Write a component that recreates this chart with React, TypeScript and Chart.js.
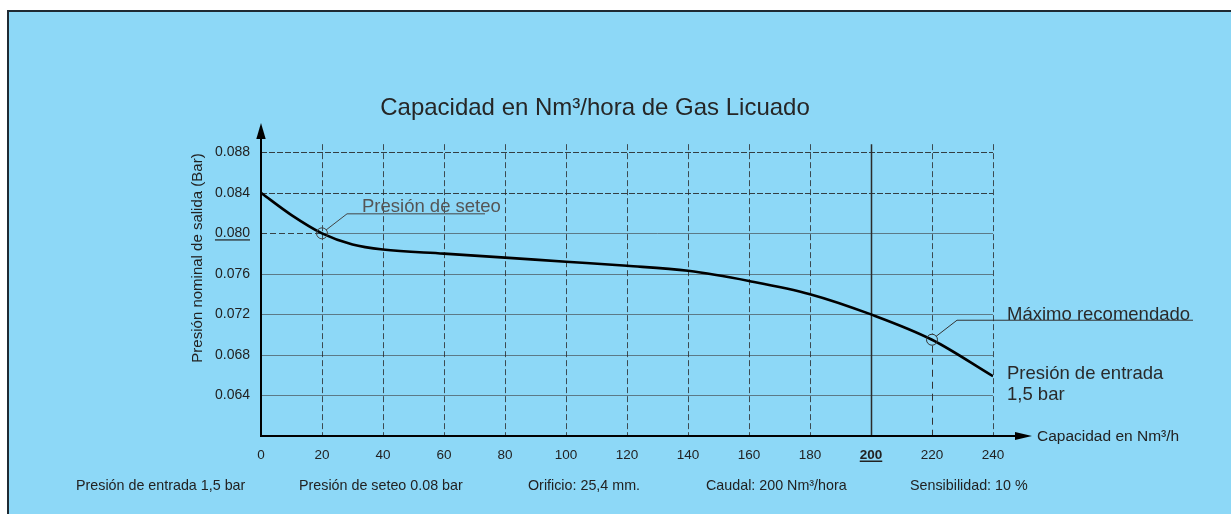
import { useEffect, useRef } from "react";
import { Chart, registerables } from "chart.js";

Chart.register(...registerables);

// ---- data ----
const capacity = [0, 10, 20, 30, 40, 60, 80, 100, 120, 140, 160, 180, 200, 220, 240];
const pressure = [0.084, 0.0818, 0.08, 0.0789, 0.0784, 0.078, 0.0776, 0.0772, 0.0768, 0.0763, 0.0753, 0.074, 0.072, 0.0695, 0.0659];

const xTickValues = [0, 20, 40, 60, 80, 100, 120, 140, 160, 180, 200, 220, 240];
const xTickLabels = ["0", "20", "40", "60", "80", "100", "120", "140", "160", "180", "200", "220", "240"];
const yTickValues = [0.088, 0.084, 0.08, 0.076, 0.072, 0.068, 0.064];
const yTickLabels = ["0.088", "0.084", "0.080", "0.076", "0.072", "0.068", "0.064"];

const titleText = "Capacidad en Nm³/hora de Gas Licuado";
const yAxisTitle = "Presión nominal de salida (Bar)";
const xAxisTitle = "Capacidad en Nm³/h";
const bottomNotes = [
  "Presión de entrada 1,5 bar",
  "Presión de seteo 0.08 bar",
  "Orificio: 25,4 mm.",
  "Caudal: 200 Nm³/hora",
  "Sensibilidad: 10 %",
];
const setPointX = 20;
const setPointY = 0.08;
const setPointLabel = "Presión de seteo";
const maxPointX = 220;
const maxPointY = 0.0695;
const maxPointLabel = "Máximo recomendado";
const inletLabel = ["Presión de entrada", "1,5 bar"];
const highlightX = 200;

const FONT = '"Liberation Sans", Arial, Helvetica, sans-serif';
const BG = "rgb(141,216,247)";
const W = 1231;
const H = 514;

const overlay = {
  id: "overlay",
  beforeDraw(chart: any) {
    const ctx = chart.ctx as CanvasRenderingContext2D;
    ctx.save();
    ctx.fillStyle = "#ffffff";
    ctx.fillRect(0, 0, W, H);
    ctx.fillStyle = BG;
    ctx.fillRect(8, 11, W - 8, H - 11);
    ctx.strokeStyle = "#1f2a33";
    ctx.lineWidth = 2;
    ctx.beginPath();
    ctx.moveTo(8, H);
    ctx.lineTo(8, 11);
    ctx.lineTo(W, 11);
    ctx.stroke();
    ctx.restore();
  },
  beforeDatasetsDraw(chart: any) {
    const ctx = chart.ctx as CanvasRenderingContext2D;
    const xs = chart.scales.x;
    const ys = chart.scales.y;
    const x0 = xs.getPixelForValue(0);
    const xEnd = xs.getPixelForValue(240);
    const y0 = ys.getPixelForValue(0.06);
    const gridTop = ys.getPixelForValue(0.0888);
    ctx.save();

    // horizontal grid
    yTickValues.forEach((v) => {
      const py = Math.round(ys.getPixelForValue(v)) + 0.5;
      ctx.beginPath();
      if (v > 0.081) {
        ctx.strokeStyle = "rgba(35,35,35,0.85)";
        ctx.setLineDash([6, 2]);
        ctx.lineWidth = 1;
        ctx.moveTo(x0, py);
        ctx.lineTo(xEnd, py);
        ctx.stroke();
      } else if (Math.abs(v - setPointY) < 1e-6) {
        const sx = xs.getPixelForValue(setPointX);
        ctx.strokeStyle = "rgba(40,40,40,0.85)";
        ctx.setLineDash([6, 3]);
        ctx.lineWidth = 1;
        ctx.moveTo(x0, py);
        ctx.lineTo(sx, py);
        ctx.stroke();
        ctx.beginPath();
        ctx.setLineDash([]);
        ctx.strokeStyle = "rgba(60,60,60,0.6)";
        ctx.moveTo(sx, py);
        ctx.lineTo(xEnd, py);
        ctx.stroke();
      } else {
        ctx.setLineDash([]);
        ctx.strokeStyle = "rgba(60,60,60,0.6)";
        ctx.lineWidth = 1.2;
        ctx.moveTo(x0, py);
        ctx.lineTo(xEnd, py);
        ctx.stroke();
      }
    });

    // vertical grid
    xTickValues.forEach((v) => {
      if (v === 0) return;
      const px = Math.round(xs.getPixelForValue(v)) + 0.5;
      ctx.beginPath();
      ctx.lineWidth = 1;
      if (v === highlightX) {
        ctx.setLineDash([]);
        ctx.strokeStyle = "#2b2b2b";
        ctx.lineWidth = 1.5;
        ctx.moveTo(px, gridTop);
        ctx.lineTo(px, y0);
        ctx.stroke();
      } else if (v === maxPointX) {
        const my = ys.getPixelForValue(maxPointY);
        ctx.setLineDash([6, 3]);
        ctx.strokeStyle = "rgba(40,40,40,0.8)";
        ctx.moveTo(px, gridTop);
        ctx.lineTo(px, my - 6);
        ctx.stroke();
        ctx.beginPath();
        ctx.setLineDash([7, 5]);
        ctx.strokeStyle = "#333";
        ctx.moveTo(px, my + 6);
        ctx.lineTo(px, y0);
        ctx.stroke();
      } else {
        ctx.setLineDash([6, 3]);
        ctx.strokeStyle = "rgba(40,40,40,0.8)";
        ctx.moveTo(px, gridTop);
        ctx.lineTo(px, y0);
        ctx.stroke();
      }
    });
    ctx.setLineDash([]);

    // axes with arrows
    ctx.strokeStyle = "#000";
    ctx.fillStyle = "#000";
    ctx.lineWidth = 2;
    ctx.beginPath();
    ctx.moveTo(x0, y0);
    ctx.lineTo(x0, 135);
    ctx.moveTo(x0 - 1, y0);
    ctx.lineTo(1018, y0);
    ctx.stroke();
    ctx.beginPath();
    ctx.moveTo(x0, 123);
    ctx.lineTo(x0 - 4.7, 139);
    ctx.lineTo(x0 + 4.7, 139);
    ctx.closePath();
    ctx.fill();
    ctx.beginPath();
    ctx.moveTo(1032, y0);
    ctx.lineTo(1015, y0 - 4);
    ctx.lineTo(1015, y0 + 4);
    ctx.closePath();
    ctx.fill();

    // y tick labels
    ctx.fillStyle = "#222";
    ctx.font = `14px ${FONT}`;
    ctx.textAlign = "right";
    ctx.textBaseline = "middle";
    yTickValues.forEach((v, i) => {
      const py = ys.getPixelForValue(v);
      ctx.fillText(yTickLabels[i], 250, py);
      if (Math.abs(v - setPointY) < 1e-6) {
        const w = ctx.measureText(yTickLabels[i]).width;
        ctx.fillRect(250 - w, py + 6, w, 1.2);
      }
    });

    // x tick labels
    ctx.textAlign = "center";
    xTickValues.forEach((v, i) => {
      const px = xs.getPixelForValue(v);
      if (v === highlightX) {
        ctx.font = `bold 13.5px ${FONT}`;
        ctx.fillText(xTickLabels[i], px, 455);
        const w = ctx.measureText(xTickLabels[i]).width;
        ctx.fillRect(px - w / 2, 460.5, w, 1.5);
      } else {
        ctx.font = `13.5px ${FONT}`;
        ctx.fillText(xTickLabels[i], px, 455);
      }
    });

    // titles
    ctx.fillStyle = "#262626";
    ctx.font = `24px ${FONT}`;
    ctx.textAlign = "center";
    ctx.textBaseline = "alphabetic";
    ctx.fillText(titleText, 595, 115);

    ctx.fillStyle = "#222";
    ctx.font = `15.5px ${FONT}`;
    ctx.textAlign = "left";
    ctx.fillText(xAxisTitle, 1037, 441);

    ctx.save();
    ctx.translate(198, 258);
    ctx.rotate(-Math.PI / 2);
    ctx.font = `15px ${FONT}`;
    ctx.textAlign = "center";
    ctx.textBaseline = "middle";
    ctx.fillText(yAxisTitle, 0, 0);
    ctx.restore();

    // bottom notes
    const noteX = [76, 299, 528, 706, 910];
    ctx.font = `14.3px ${FONT}`;
    ctx.textAlign = "left";
    ctx.textBaseline = "alphabetic";
    bottomNotes.forEach((t, i) => ctx.fillText(t, noteX[i], 490));

    // annotation labels
    ctx.font = `18.5px ${FONT}`;
    ctx.fillStyle = "#555";
    ctx.fillText(setPointLabel, 362, 212);
    ctx.fillStyle = "#2a2a2a";
    ctx.fillText(maxPointLabel, 1007, 319.5);
    ctx.fillText(inletLabel[0], 1007, 379);
    ctx.fillText(inletLabel[1], 1007, 400);

    ctx.restore();
  },
  afterDatasetsDraw(chart: any) {
    const ctx = chart.ctx as CanvasRenderingContext2D;
    const xs = chart.scales.x;
    const ys = chart.scales.y;
    ctx.save();
    const drawMarker = (vx: number, vy: number, endX: number, color: string) => {
      const px = xs.getPixelForValue(vx);
      const py = ys.getPixelForValue(vy);
      ctx.strokeStyle = color;
      ctx.lineWidth = 1;
      ctx.beginPath();
      ctx.arc(px, py, 5.5, 0, Math.PI * 2);
      ctx.stroke();
      ctx.beginPath();
      ctx.moveTo(px + 4, py - 3.3);
      ctx.lineTo(px + 25, py - 19.5);
      ctx.lineTo(endX, py - 19.5);
      ctx.stroke();
    };
    drawMarker(setPointX, setPointY, 485, "#444");
    drawMarker(maxPointX, maxPointY, 1193, "#333");
    ctx.restore();
  },
};

export default function App() {
  const ref = useRef<HTMLCanvasElement | null>(null);
  useEffect(() => {
    document.body.style.margin = "0";
    const canvas = ref.current;
    if (!canvas) return;
    const chart = new Chart(canvas, {
      type: "line",
      data: {
        datasets: [
          {
            data: capacity.map((c, i) => ({ x: c, y: pressure[i] })),
            borderColor: "#000",
            borderWidth: 2.6,
            pointRadius: 0,
            fill: false,
            cubicInterpolationMode: "monotone",
          },
        ],
      },
      options: {
        animation: false,
        responsive: false,
        maintainAspectRatio: false,
        devicePixelRatio: 1,
        layout: { padding: { left: 261, right: W - 993, top: 132, bottom: H - 436 } },
        plugins: { legend: { display: false }, tooltip: { enabled: false }, title: { display: false } },
        scales: {
          x: { type: "linear", min: 0, max: 240, display: false },
          y: { type: "linear", min: 0.06, max: 0.09, display: false },
        },
      },
      plugins: [overlay],
    });
    return () => chart.destroy();
  }, []);
  return (
    <div style={{ width: W, height: H, position: "relative" }}>
      <canvas ref={ref} width={W} height={H} style={{ width: W, height: H, display: "block" }} />
    </div>
  );
}
